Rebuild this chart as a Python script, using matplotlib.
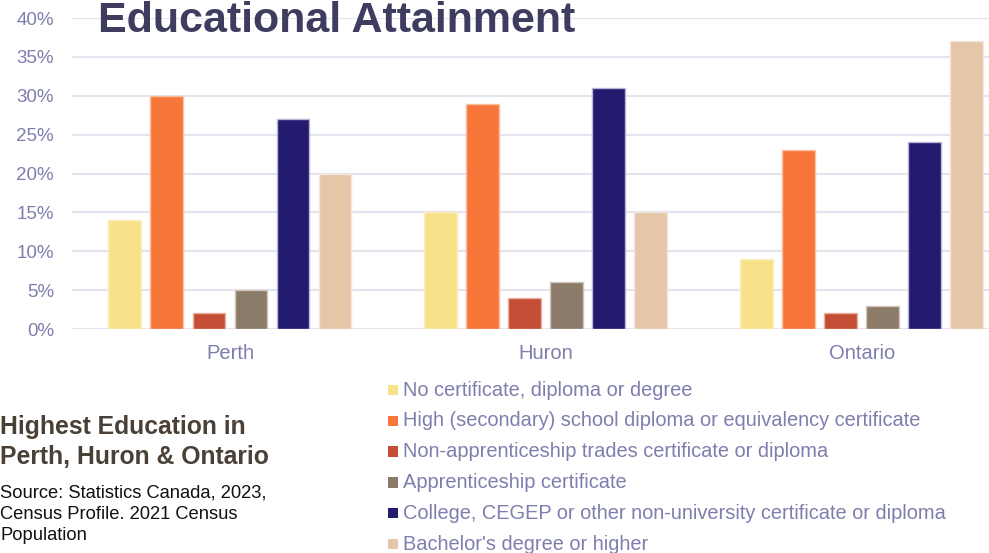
import numpy as np
import matplotlib.pyplot as plt
from matplotlib.patches import Rectangle

plt.rcParams['font.family'] = ['Liberation Sans', 'DejaVu Sans']

regions = ["Perth", "Huron", "Ontario"]
levels = [
    "No certificate, diploma or degree",
    "High (secondary) school diploma or equivalency certificate",
    "Non-apprenticeship trades certificate or diploma",
    "Apprenticeship certificate",
    "College, CEGEP or other non-university certificate or diploma",
    "Bachelor's degree or higher",
]
perth = [14, 30, 2, 5, 27, 20]
huron = [15, 29, 4, 6, 31, 15]
ontario = [9, 23, 2, 3, 24, 37]
colors = ["#F7E28A", "#F7773A", "#C44E35", "#8C7B68", "#231C6E", "#E6C6A8"]
edges = ["#FBEFC0", "#FBC0A0", "#EAB0A0", "#D0C6BC", "#B8B4D8", "#F4E6D8"]

label_col = "#7E7EAE"

fig = plt.figure(figsize=(9.89, 5.53), dpi=100)
ax = fig.add_axes([0.0728, 0.405, 0.9272, 0.5624])

data = np.array([perth, huron, ontario])
x = np.arange(len(regions))
pitch = 0.133
width = 0.104
for i in range(len(levels)):
    ax.bar(x + (i - 2.5) * pitch, data[:, i], width=width, color=colors[i],
           edgecolor=edges[i], linewidth=1.0, zorder=3)

ax.set_xlim(-0.5, 2.403)
ax.set_ylim(0, 40)
ax.set_yticks(range(0, 41, 5))
ax.set_yticklabels([f"{v}%" for v in range(0, 41, 5)])
ax.set_xticks(x)
ax.set_xticklabels(regions)
ax.tick_params(axis='both', length=0, colors=label_col)
ax.tick_params(axis='y', labelsize=13.5, pad=13)
ax.tick_params(axis='x', labelsize=14.5, pad=11)
ax.grid(axis='y', color="#E4E4EE", linewidth=1.5, zorder=0)
for s in ax.spines.values():
    s.set_visible(False)

fig.text(0.099, 1 - 32.5 / 553, "Educational Attainment", fontsize=31, fontweight='bold',
         color="#3F3D5F", va='baseline', ha='left')

# legend drawn as a column of swatches under the chart
for i, (lab, c) in enumerate(zip(levels, colors)):
    yy = 1 - (390 + i * 30.8) / 553
    fig.patches.append(Rectangle((388 / 989, yy - 0.0095), 0.0105, 0.019,
                                 transform=fig.transFigure, facecolor=c,
                                 edgecolor='none'))
    fig.text(403 / 989, yy, lab, fontsize=14.4, color=label_col, va='center', ha='left')

fig.text(0.0, 1 - 427 / 553, "Highest Education in", fontsize=17.8, fontweight='bold',
         color="#4A4035", va='center', ha='left')
fig.text(0.0, 1 - 457 / 553, "Perth, Huron & Ontario", fontsize=17.8, fontweight='bold',
         color="#4A4035", va='center', ha='left')
for j, line in enumerate(["Source: Statistics Canada, 2023,", "Census Profile. 2021 Census",
                          "Population"]):
    fig.text(0.0, 1 - (493 + j * 21.5) / 553, line, fontsize=13.2, color="#111111",
             va='center', ha='left')

fig.savefig("out.png", dpi=100)
